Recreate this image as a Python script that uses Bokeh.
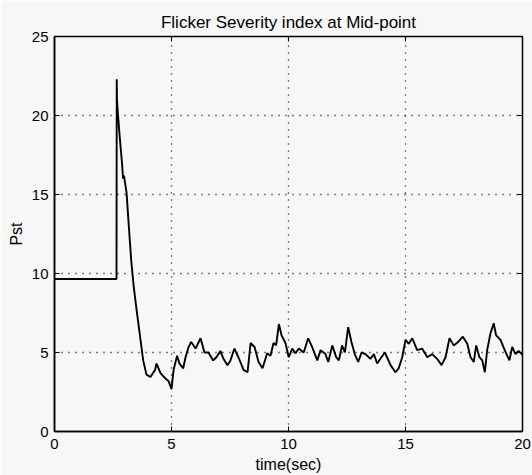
from bokeh.plotting import figure
from bokeh.models import Range1d, FixedTicker, Title
from bokeh.embed import file_html
from bokeh.resources import INLINE

# ---- data ----
time_sec = [0, 2.65, 2.66, 2.67, 2.71, 2.79, 2.89, 2.93, 2.97, 3.03, 3.08, 3.18, 3.28, 3.39,
            3.53, 3.68, 3.79, 3.93, 4.10, 4.30, 4.36, 4.53, 4.74, 4.87, 5.0, 5.09, 5.24, 5.34,
            5.50, 5.60, 5.73, 5.84, 6.03, 6.24, 6.41, 6.58, 6.78, 6.92, 7.09, 7.22, 7.39, 7.52,
            7.69, 7.86, 8.08, 8.25, 8.38, 8.55, 8.72, 8.89, 9.09, 9.23, 9.36, 9.47, 9.59, 9.70,
            9.87, 10.01, 10.16, 10.30, 10.44, 10.65, 10.84, 11.01, 11.23, 11.37, 11.58, 11.70,
            11.87, 12.04, 12.15, 12.29, 12.41, 12.55, 12.69, 12.83, 12.98, 13.12, 13.29, 13.50,
            13.65, 13.79, 13.97, 14.12, 14.36, 14.57, 14.71, 14.86, 15.0, 15.14, 15.29, 15.50,
            15.71, 15.93, 16.14, 16.35, 16.54, 16.71, 16.88, 17.06, 17.25, 17.45, 17.64, 17.78,
            17.92, 18.02, 18.16, 18.28, 18.39, 18.49, 18.63, 18.77, 18.87, 19.06, 19.24, 19.44,
            19.56, 19.70, 19.83, 20.0]
pst = [9.65, 9.65, 22.3, 21.0, 20.1, 18.6, 16.9, 16.0, 16.2, 15.6, 15.1, 12.9, 10.8, 9.1,
       7.45, 5.75, 4.5, 3.6, 3.45, 3.9, 4.3, 3.7, 3.35, 3.2, 2.7, 3.9, 4.8, 4.3,
       4.0, 4.7, 5.35, 5.67, 5.25, 5.9, 5.0, 5.0, 4.5, 4.7, 5.1, 4.6, 4.2, 4.5,
       5.25, 4.7, 3.9, 3.75, 5.6, 5.35, 4.4, 4.0, 4.95, 4.8, 5.6, 5.45, 6.8, 6.1,
       5.6, 4.7, 5.25, 4.95, 5.25, 5.0, 5.9, 5.35, 4.5, 5.15, 4.9, 4.4,
       5.45, 4.7, 4.5, 5.45, 5.0, 6.6, 5.67, 4.9, 4.4, 5.0, 4.9, 4.6,
       4.9, 4.3, 4.7, 5.0, 4.2, 3.75, 4.0, 4.7, 5.8, 5.55, 5.9, 5.15,
       5.25, 4.7, 4.9, 4.6, 4.2, 4.7, 5.9, 5.45, 5.67, 6.0, 5.55, 4.7,
       4.4, 5.45, 4.7, 4.5, 3.75, 5.15, 6.2, 6.85, 6.1, 5.8, 5.15, 4.5,
       5.35, 4.9, 5.1, 4.85]

x_ticks = [0, 5, 10, 15, 20]
y_ticks = [0, 5, 10, 15, 20, 25]

title_text = "Flicker Severity index at Mid-point"
x_label = "time(sec)"
y_label = "Pst"

FONT = "Liberation Sans"
BG = "#f7f7f7"
X0, X1, Y0, Y1 = 0, 20, 0, 25
TICK_PX = 5
PLOT_W_PX, PLOT_H_PX = 468, 395

p = figure(width=532, height=475, output_backend="svg", toolbar_location=None,
           x_range=Range1d(X0, X1), y_range=Range1d(Y0, Y1),
           min_border_left=54, min_border_right=10, min_border_top=36, min_border_bottom=44,
           background_fill_color=BG, border_fill_color=BG)

p.title = Title(text=title_text, align="center", text_font=FONT, text_font_size="17px",
                text_font_style="normal", text_color="black", standoff=10)

p.line(time_sec, pst, line_color="black", line_width=1.9)

p.outline_line_color = "black"
p.outline_line_width = 1.5
p.outline_line_alpha = 1.0

for ax in (p.xaxis[0], p.yaxis[0]):
    ax.axis_line_color = "black"
    ax.axis_line_width = 1.5
    ax.major_tick_in = TICK_PX
    ax.major_tick_out = 0
    ax.minor_tick_in = 0
    ax.minor_tick_out = 0
    ax.major_tick_line_color = "black"
    ax.major_label_text_font = FONT
    ax.major_label_text_font_size = "15px"
    ax.major_label_text_color = "black"
    ax.axis_label_text_font = FONT
    ax.axis_label_text_font_size = "16px"
    ax.axis_label_text_font_style = "normal"
    ax.axis_label_text_color = "black"

p.xaxis[0].ticker = FixedTicker(ticks=x_ticks)
p.yaxis[0].ticker = FixedTicker(ticks=y_ticks)
p.xaxis[0].axis_label = x_label
p.yaxis[0].axis_label = y_label
p.xaxis[0].major_label_standoff = 7
p.xaxis[0].axis_label_standoff = 4
p.yaxis[0].major_label_standoff = 6
p.yaxis[0].axis_label_standoff = 4

# inward ticks on the top and right frame edges (box on)
tx = TICK_PX * (X1 - X0) / PLOT_W_PX
ty = TICK_PX * (Y1 - Y0) / PLOT_H_PX
p.segment(x0=x_ticks, y0=[Y1] * len(x_ticks), x1=x_ticks, y1=[Y1 - ty] * len(x_ticks),
          line_color="black", line_width=1)
p.segment(x0=[X1] * len(y_ticks), y0=y_ticks, x1=[X1 - tx] * len(y_ticks), y1=y_ticks,
          line_color="black", line_width=1)

p.xgrid.ticker = FixedTicker(ticks=x_ticks)
p.ygrid.ticker = FixedTicker(ticks=y_ticks)
for g in (p.xgrid[0], p.ygrid[0]):
    g.grid_line_color = "black"
    g.grid_line_dash = "1 6"
    g.grid_line_width = 1.3
    g.grid_line_alpha = 1.0

open("out.html", "w").write(file_html(p, INLINE))
